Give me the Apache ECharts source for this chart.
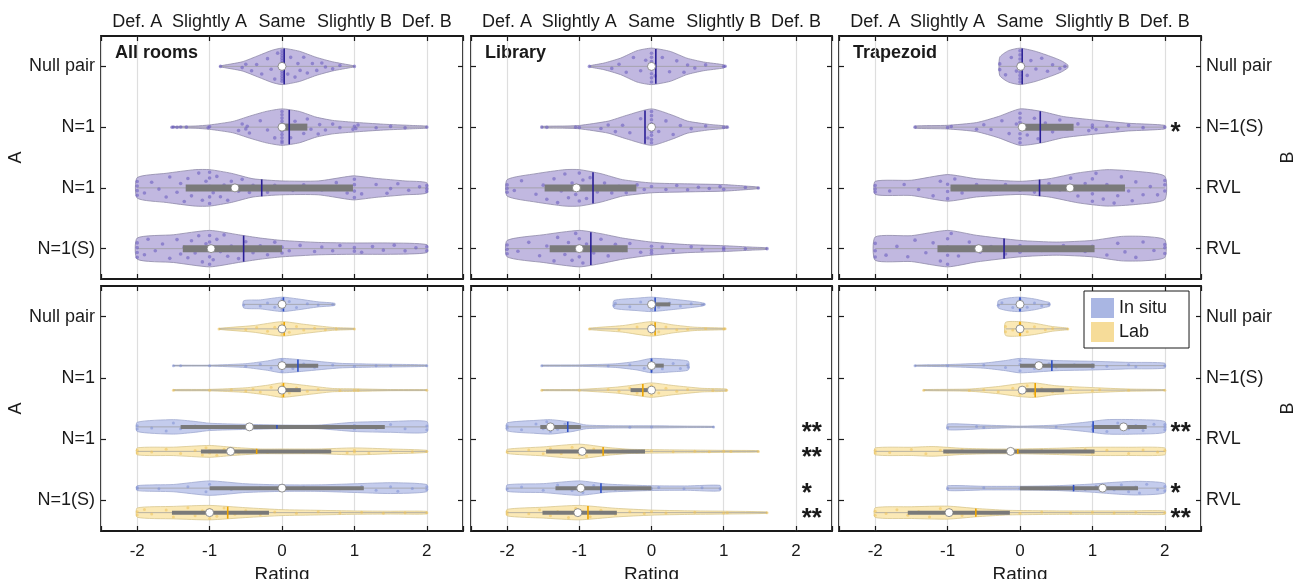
<!DOCTYPE html>
<html>
<head>
<meta charset="utf-8">
<script src="https://cdn.jsdelivr.net/npm/echarts@6/dist/echarts.min.js"></script>
<style>
  html, body { margin: 0; padding: 0; background: #fff; }
  #chart { width: 1293px; height: 579px; }
</style>
</head>
<body>
<div id="chart"></div>
<script>
var ratingTicks = [-2, -1, 0, 1, 2]
var ratingWords = ['Def. A', 'Slightly A', 'Same', 'Slightly B', 'Def. B']
var rowsA = ['Null pair', 'N=1', 'N=1', 'N=1(S)']
var rowsB = ['Null pair', 'N=1(S)', 'RVL', 'RVL']
var rooms = ['All rooms', 'Library', 'Trapezoid']
var groups = ['In situ', 'Lab']

// top row: in situ + lab pooled
// shape = [rating, density], box = IQR, pts = [rating, jitter]
var allRoomsPooled = [
  { row: 0, shape: [[-0.86, 0.02], [-0.55, 0.25], [-0.32, 0.6], [-0.14, 0.88], [0, 1], [0.24, 0.83], [0.47, 0.5], [0.7, 0.25], [0.97, 0.05], [1.0, 0.02]],
    box: [0, 0], median: 0, mean: 0.03,
    pts: [[-0.85, 0.1], [-0.55, 0.3], [-0.5, -0.4], [-0.42, 0.6], [-0.35, -0.2], [-0.28, 0.7], [-0.2, -0.6], [-0.15, 0.2], [-0.1, 0.85], [-0.06, -0.85],
      [0, -0.95], [0, -0.8], [0, -0.65], [0, -0.5], [0, -0.35], [0, -0.2], [0, 0.15], [0, 0.3], [0, 0.45], [0, 0.6], [0, 0.75], [0, 0.9],
      [0.08, 0.5], [0.12, -0.6], [0.18, 0.75], [0.22, -0.2], [0.25, 0.3], [0.3, -0.75], [0.35, 0.6], [0.42, -0.3], [0.48, 0.5], [0.55, -0.5], [0.6, 0.1], [0.7, 0.6], [0.8, -0.3], [1.0, 0]] },
  { row: 1, shape: [[-1.52, 0.03], [-1.2, 0.06], [-1.0, 0.12], [-0.68, 0.31], [-0.45, 0.6], [-0.22, 0.86], [0, 1], [0.24, 0.86], [0.47, 0.55], [0.7, 0.37], [0.98, 0.27], [1.4, 0.16], [1.8, 0.09], [2.0, 0.05]],
    box: [0, 0.35], median: 0, mean: 0.1,
    pts: [[-1.52, 0.2], [-1.5, -0.3], [-1.45, 0.4], [-1.4, -0.2], [-1.32, 0], [-1.02, 0.3], [-1.0, -0.2], [-0.6, 0.5], [-0.55, -0.4], [-0.5, 0.2], [-0.48, -0.1], [-0.45, 0.6], [-0.3, -0.5], [-0.2, 0.2], [-0.1, 0.7],
      [0, -0.95], [0, -0.75], [0, -0.55], [0, -0.35], [0, -0.15], [0, 0.25], [0, 0.45], [0, 0.65], [0, 0.85], [0, 0.95],
      [0.12, 0.7], [0.18, -0.4], [0.3, 0.5], [0.35, -0.7], [0.4, 0.2], [0.5, 0.8], [0.52, -0.3], [0.6, 0.4], [0.7, -0.5], [0.8, 0.1], [0.98, 0.5], [1.0, -0.2], [1.02, 0.3], [1.05, -0.5], [1.3, 0.2], [1.5, -0.3], [1.7, 0.4], [2.0, 0]] },
  { row: 2, shape: [[-2, 0.56], [-1.6, 0.8], [-1.2, 1.0], [-1.0, 1.0], [-0.7, 0.8], [-0.4, 0.5], [0, 0.38], [0.5, 0.38], [0.9, 0.62], [1.0, 0.66], [1.3, 0.52], [1.7, 0.38], [2.0, 0.28]],
    box: [-1.33, 0.98], median: -0.65, mean: -0.28,
    pts: [[-2, 0.8], [-2, 0.3], [-2, -0.2], [-2, -0.7], [-1.9, 0.5], [-1.8, -0.5], [-1.7, 0.1], [-1.6, 0.7], [-1.55, -0.8], [-1.45, 0.3], [-1.4, -0.3], [-1.35, 0.9], [-1.3, -0.6], [-1.25, 0.5], [-1.2, 0.1], [-1.15, -0.9], [-1.1, 0.75], [-1.05, -0.4],
      [-1.0, 0.95], [-1.0, 0.55], [-1.0, -0.1], [-1.0, -0.6], [-1.0, -0.95], [-0.95, 0.3], [-0.9, -0.75], [-0.85, 0.6], [-0.8, -0.2], [-0.75, 0.9], [-0.7, -0.5], [-0.6, 0.3], [-0.55, -0.8], [-0.45, 0.5], [-0.4, -0.3], [-0.2, 0.6], [-0.1, -0.4],
      [0.15, 0.4], [0.3, -0.5], [0.55, 0.3], [0.75, -0.6], [0.9, 0.5], [1.0, 0.9], [1.0, 0.3], [1.0, -0.3], [1.0, -0.8], [1.1, 0.6], [1.3, -0.4], [1.45, 0.7], [1.5, 0.1], [1.6, -0.6], [1.75, 0.4], [1.9, -0.2], [2, 0.8], [2, 0.2], [2, -0.5]] },
  { row: 3, shape: [[-2, 0.58], [-1.5, 0.76], [-1, 1.0], [-0.6, 0.76], [-0.3, 0.58], [0, 0.45], [0.5, 0.34], [1.0, 0.31], [1.5, 0.31], [2.0, 0.22]],
    box: [-1.37, 0], median: -0.98, mean: -0.53,
    pts: [[-2, 0.9], [-2, 0.4], [-2, -0.1], [-2, -0.6], [-1.9, 0.6], [-1.85, -0.9], [-1.75, 0.2], [-1.65, -0.4], [-1.55, 0.8], [-1.45, -0.7], [-1.4, 0.4], [-1.35, -0.1], [-1.3, 0.65], [-1.25, -0.55], [-1.2, 0.3], [-1.15, -0.85], [-1.1, 0.85], [-1.05, -0.3],
      [-1.0, 0.95], [-1.0, 0.5], [-1.0, 0.1], [-1.0, -0.4], [-1.0, -0.8], [-0.95, 0.7], [-0.9, -0.6], [-0.85, 0.2], [-0.8, -0.95], [-0.75, 0.55], [-0.7, -0.2], [-0.6, 0.8], [-0.5, -0.6], [-0.4, 0.4], [-0.3, -0.3], [-0.2, 0.7], [-0.1, -0.8],
      [0, 0.6], [0, -0.2], [0.1, 0.3], [0.25, -0.5], [0.45, 0.5], [0.55, -0.3], [0.7, 0.4], [0.8, -0.6], [1.0, 0.5], [1.0, -0.2], [1.1, 0.7], [1.25, -0.4], [1.4, 0.3], [1.55, -0.7], [1.7, 0.5], [1.85, -0.2], [2, 0.6], [2, -0.5]] }
]

var libraryPooled = [
  { row: 0, shape: [[-0.86, 0.03], [-0.66, 0.18], [-0.43, 0.45], [-0.2, 0.86], [0, 1], [0.26, 0.82], [0.49, 0.45], [0.72, 0.24], [1.0, 0.09], [1.02, 0.03]],
    box: [0, 0], median: 0, mean: 0.06,
    pts: [[-0.86, 0], [-0.55, 0.4], [-0.45, -0.3], [-0.35, 0.6], [-0.25, -0.7], [-0.15, 0.3], [-0.08, -0.4], [0, 0.95], [0, 0.7], [0, 0.45], [0, 0.2], [0, -0.3], [0, -0.55], [0, -0.8],
      [0.05, 0.6], [0.15, -0.6], [0.25, 0.4], [0.35, -0.5], [0.45, 0.7], [0.5, -0.2], [0.6, 0.3], [0.75, -0.4], [1.0, 0.1], [1.02, -0.2]] },
  { row: 1, shape: [[-1.52, 0.04], [-1.2, 0.06], [-1.0, 0.09], [-0.6, 0.33], [-0.35, 0.64], [0, 1], [0.3, 0.64], [0.5, 0.33], [0.8, 0.15], [1.05, 0.05]],
    box: [0, 0], median: 0, mean: -0.09,
    pts: [[-1.52, 0], [-1.45, 0.3], [-1.05, 0], [-1.0, 0.3], [-0.7, 0.3], [-0.6, -0.4], [-0.5, 0.6], [-0.4, -0.2], [-0.3, 0.5], [-0.15, -0.6], [-0.05, 0.7],
      [0, 0.95], [0, 0.75], [0, 0.5], [0, 0.3], [0, -0.2], [0, -0.45], [0, -0.7], [0, -0.95], [0.1, 0.3], [0.2, -0.5], [0.3, 0.7], [0.4, -0.2], [0.55, 0.3], [0.75, -0.4], [1.0, 0.2], [1.05, 0]] },
  { row: 2, shape: [[-2, 0.45], [-1.6, 0.78], [-1.2, 1.0], [-1.0, 1.0], [-0.7, 0.78], [-0.4, 0.45], [0, 0.27], [0.5, 0.22], [1.0, 0.18], [1.3, 0.1], [1.48, 0.04]],
    box: [-1.48, -0.21], median: -1.04, mean: -0.81,
    pts: [[-2, 0.6], [-2, 0.1], [-2, -0.4], [-1.9, 0.3], [-1.8, -0.7], [-1.6, 0.5], [-1.5, -0.2], [-1.45, 0.8], [-1.35, -0.6], [-1.3, 0.95], [-1.25, 0.2], [-1.2, -0.85], [-1.15, 0.6], [-1.1, -0.3], [-1.05, 0.4],
      [-1.0, 0.8], [-1.0, -0.1], [-1.0, -0.9], [-0.95, -0.5], [-0.9, 0.7], [-0.85, -0.7], [-0.75, 0.3], [-0.65, -0.4], [-0.55, 0.5], [-0.45, -0.2], [-0.35, 0.7], [-0.2, -0.5], [-0.1, 0.3],
      [0, -0.3], [0.2, 0.4], [0.35, -0.6], [0.5, 0.5], [0.65, -0.2], [0.8, 0.2], [0.95, -0.4], [1.0, 0.5], [1.3, -0.2], [1.48, 0.1]] },
  { row: 3, shape: [[-2, 0.45], [-1.5, 0.76], [-1.0, 1.0], [-0.7, 0.82], [-0.4, 0.58], [0, 0.36], [0.5, 0.22], [1.0, 0.16], [1.4, 0.08], [1.6, 0.04]],
    box: [-1.41, -0.33], median: -1.0, mean: -0.84,
    pts: [[-2, 0.7], [-2, 0.1], [-2, -0.5], [-1.85, 0.3], [-1.7, -0.6], [-1.55, 0.6], [-1.45, -0.2], [-1.35, 0.9], [-1.3, -0.8], [-1.2, 0.4], [-1.15, -0.4], [-1.1, 0.75], [-1.05, -0.95],
      [-1.0, 0.5], [-1.0, 0], [-1.0, -0.6], [-0.95, 0.9], [-0.9, -0.3], [-0.8, 0.3], [-0.7, -0.7], [-0.6, 0.6], [-0.5, -0.4], [-0.4, 0.2], [-0.3, -0.6], [-0.15, 0.5],
      [0, 0.8], [0, 0.3], [0, -0.4], [0.15, -0.3], [0.3, 0.4], [0.55, -0.5], [0.7, 0.2], [1.0, -0.3], [1.0, 0.4], [1.3, 0.1], [1.6, 0]] }
]

var trapezoidPooled = [
  { row: 0, shape: [[-0.28, 0.5], [-0.16, 0.86], [0, 1], [0.21, 0.83], [0.44, 0.52], [0.57, 0.31], [0.66, 0.08]],
    box: [0, 0], median: 0.01, mean: 0.03,
    pts: [[-0.28, 0.4], [-0.28, -0.3], [-0.2, 0.7], [-0.12, -0.6], [-0.05, 0.3], [0, 0.95], [0, 0.75], [0, 0.55], [0, 0.35], [0, 0.1], [0, -0.2], [0, -0.45], [0, -0.7], [0, -0.95],
      [0.1, 0.6], [0.15, -0.4], [0.22, 0.2], [0.3, -0.7], [0.38, 0.5], [0.45, -0.2], [0.55, 0.4], [0.62, 0]] },
  { row: 1, shape: [[-1.45, 0.06], [-1.0, 0.1], [-0.6, 0.25], [-0.3, 0.58], [0, 1], [0.3, 0.86], [0.6, 0.58], [1.0, 0.4], [1.5, 0.21], [2.0, 0.1]],
    box: [0.03, 0.74], median: 0.03, mean: 0.28,
    pts: [[-1.45, 0], [-1.0, 0.2], [-0.95, -0.3], [-0.6, 0.5], [-0.5, -0.4], [-0.4, 0.3], [-0.25, -0.6], [-0.15, 0.5], [-0.05, -0.2], [0, 0.95], [0, 0.7], [0, 0.4], [0, -0.3], [0, -0.55], [0, -0.85],
      [0.1, 0.5], [0.2, -0.6], [0.25, 0.8], [0.35, -0.3], [0.45, 0.4], [0.55, -0.7], [0.65, 0.2], [0.8, -0.4], [0.95, 0.5], [1.0, 0.1], [1.0, -0.3], [1.05, 0.4], [1.2, -0.2], [1.35, 0.3], [1.5, -0.5], [1.7, 0.2], [2.0, 0]] },
  { row: 2, shape: [[-2, 0.36], [-1.5, 0.42], [-1.0, 0.73], [-0.6, 0.5], [0, 0.36], [0.4, 0.5], [0.8, 0.82], [1.2, 1.0], [1.6, 0.91], [2.0, 0.64]],
    box: [-0.96, 1.45], median: 0.69, mean: 0.27,
    pts: [[-2, 0.7], [-2, 0.2], [-2, -0.4], [-1.8, 0.5], [-1.6, -0.5], [-1.4, 0.2], [-1.2, 0.8], [-1.1, -0.6], [-1.0, 0.9], [-1.0, 0.3], [-1.0, -0.3], [-0.9, -0.8], [-0.8, 0.5], [-0.6, -0.4], [-0.4, 0.3], [-0.2, -0.5],
      [0, 0.4], [0, -0.2], [0.2, 0.6], [0.4, -0.5], [0.55, 0.2], [0.7, -0.8], [0.8, 0.6], [0.9, -0.3], [1.0, 0.9], [1.0, 0.4], [1.0, -0.6], [1.05, -0.95], [1.15, 0.7], [1.2, -0.2],
      [1.3, 0.95], [1.35, 0.5], [1.4, -0.7], [1.5, 0.2], [1.55, 0.85], [1.6, -0.4], [1.7, 0.5], [1.8, -0.1], [1.9, 0.6], [2, 0.3], [2, -0.3], [2, -0.7]] },
  { row: 3, shape: [[-2, 0.64], [-1.5, 0.71], [-1, 1.0], [-0.6, 0.73], [0, 0.45], [0.5, 0.36], [1.0, 0.45], [1.4, 0.67], [1.7, 0.67], [2.0, 0.49]],
    box: [-1.14, 1.03], median: -0.57, mean: -0.22,
    pts: [[-2, 0.8], [-2, 0.2], [-2, -0.5], [-1.85, 0.6], [-1.7, -0.2], [-1.55, 0.7], [-1.45, -0.7], [-1.3, 0.3], [-1.2, -0.4], [-1.1, 0.8], [-1.0, 0.95], [-1.0, 0.4], [-1.0, -0.1], [-1.0, -0.6], [-0.95, -0.95],
      [-0.85, 0.5], [-0.7, -0.5], [-0.55, 0.3], [-0.4, -0.2], [-0.2, 0.6], [0, 0.5], [0, -0.4], [0.3, 0.3], [0.6, -0.5], [0.9, 0.4], [1.0, -0.3], [1.2, 0.7], [1.35, -0.5], [1.45, 0.3], [1.6, 0.8], [1.7, -0.6], [1.85, 0.2], [2, 0.6], [2, -0.1], [2, -0.5]] }
]

// bottom row: side -1 = in situ, side 1 = lab
var allRoomsSplit = [
  { row: 0, side: -1, shape: [[-0.53, 0.5], [-0.3, 0.62], [0, 1], [0.2, 0.78], [0.5, 0.35], [0.73, 0.15]], box: [0, 0], median: 0, mean: 0.02,
    pts: [[-0.53, 0.2], [-0.3, 0.4], [-0.2, -0.3], [-0.1, 0.5], [0, 0.8], [0, 0.3], [0, -0.3], [0, -0.8], [0.1, -0.5], [0.2, 0.6], [0.35, -0.2], [0.5, 0.3], [0.7, 0]] },
  { row: 0, side: 1, shape: [[-0.87, 0.07], [-0.4, 0.45], [0, 1], [0.3, 0.64], [0.7, 0.2], [1.0, 0.08]], box: [0, 0], median: 0, mean: 0.03,
    pts: [[-0.87, 0], [-0.5, 0.3], [-0.35, -0.4], [-0.2, 0.5], [-0.1, -0.3], [0, 0.85], [0, 0.4], [0, -0.3], [0, -0.8], [0.1, 0.6], [0.2, -0.5], [0.3, 0.3], [0.45, -0.2], [0.6, 0.4], [0.75, 0], [1.0, 0]] },
  { row: 1, side: -1, shape: [[-1.5, 0.05], [-1.0, 0.06], [-0.5, 0.27], [-0.2, 0.65], [0, 1], [0.3, 0.77], [0.8, 0.32], [1.2, 0.22], [2.0, 0.1]], box: [0, 0.5], median: 0, mean: 0.22,
    pts: [[-1.5, 0], [-1.4, 0.2], [-1.0, 0], [-0.5, 0.3], [-0.3, -0.4], [-0.15, 0.5], [0, 0.9], [0, 0.3], [0, -0.4], [0, -0.9], [0.15, 0.5], [0.3, -0.3], [0.45, 0.4], [0.7, -0.2], [1.0, 0.3], [1.3, 0], [1.5, 0], [2.0, 0]] },
  { row: 1, side: 1, shape: [[-1.5, 0.08], [-1.0, 0.1], [-0.5, 0.32], [-0.2, 0.68], [0, 1], [0.3, 0.68], [0.7, 0.23], [1.0, 0.18], [1.5, 0.08], [2.0, 0.06]], box: [0, 0.26], median: 0, mean: 0.02,
    pts: [[-1.5, 0], [-1.0, 0.2], [-0.7, -0.2], [-0.5, 0.4], [-0.4, -0.3], [-0.3, 0.5], [-0.15, -0.6], [0, 0.9], [0, 0.4], [0, -0.2], [0, -0.7], [0.1, 0.5], [0.2, -0.4], [0.35, 0.3], [0.5, -0.2], [0.8, 0.3], [1.0, 0], [1.05, 0.2], [2.0, 0]] },
  { row: 2, side: -1, shape: [[-2, 0.64], [-1.5, 1.0], [-1.2, 0.75], [-1.0, 0.5], [-0.5, 0.35], [0, 0.25], [0.5, 0.25], [1.0, 0.64], [1.5, 0.75], [2.0, 0.75]], box: [-1.4, 1.42], median: -0.45, mean: -0.07,
    pts: [[-2, 0.5], [-2, -0.3], [-1.8, 0.2], [-1.6, 0.7], [-1.5, -0.6], [-1.4, 0.3], [-1.2, -0.2], [-1.0, 0.4], [-0.5, 0], [0, 0.3], [0.7, -0.2], [1.0, 0.5], [1.0, -0.4], [1.3, 0.3], [1.5, -0.5], [1.7, 0.4], [2, 0.6], [2, -0.2]] },
  { row: 2, side: 1, shape: [[-2, 0.48], [-1.5, 0.58], [-1.0, 0.82], [-0.7, 0.58], [-0.3, 0.33], [0, 0.33], [0.5, 0.33], [1.0, 0.48], [1.5, 0.33], [2.0, 0.15]], box: [-1.12, 0.68], median: -0.71, mean: -0.35,
    pts: [[-2, 0.5], [-2, -0.4], [-1.8, 0.2], [-1.6, -0.6], [-1.4, 0.5], [-1.2, -0.2], [-1.1, 0.7], [-1.05, -0.7], [-1.0, 0.3], [-1.0, -0.2], [-0.9, 0.8], [-0.8, -0.5], [-0.6, 0.4], [-0.4, -0.3], [-0.2, 0.5],
      [0, -0.2], [0.3, 0.4], [0.6, -0.3], [0.9, 0.5], [1.0, -0.4], [1.0, 0.2], [1.2, 0.6], [1.5, -0.3], [1.8, 0.3], [2, 0]] },
  { row: 3, side: -1, shape: [[-2, 0.34], [-1.5, 0.5], [-1.0, 1.0], [-0.5, 0.6], [0, 0.45], [0.5, 0.45], [1.0, 0.6], [1.5, 0.75], [2.0, 0.5]], box: [-1.0, 1.13], median: 0, mean: 0,
    pts: [[-2, 0.3], [-2, -0.4], [-1.7, 0.2], [-1.3, -0.3], [-1.05, 0.6], [-1.0, -0.6], [-0.7, 0.3], [-0.3, -0.2], [0, 0.4], [0.3, -0.3], [0.8, 0.2], [1.1, -0.4], [1.3, 0.5], [1.5, -0.3], [1.6, 0.7], [1.8, 0.1], [2, 0.4], [2, -0.4]] },
  { row: 3, side: 1, shape: [[-2, 0.64], [-1.5, 0.86], [-1, 1.0], [-0.5, 0.68], [0, 0.41], [0.5, 0.32], [1.0, 0.23], [1.5, 0.2], [2.0, 0.18]], box: [-1.52, -0.18], median: -1.0, mean: -0.75,
    pts: [[-2, 0.6], [-2, -0.2], [-1.9, -0.7], [-1.8, 0.3], [-1.6, -0.5], [-1.5, 0.8], [-1.4, 0], [-1.3, -0.8], [-1.2, 0.5], [-1.1, -0.3], [-1.0, 0.9], [-1.0, 0.2], [-1.0, -0.5], [-0.9, 0.6], [-0.8, -0.8],
      [-0.65, 0.3], [-0.5, -0.4], [-0.3, 0.5], [-0.1, -0.2], [0.2, 0.3], [0.5, -0.4], [0.8, 0.2], [1.1, -0.3], [1.4, 0.4], [1.7, 0], [2, 0]] }
]

var librarySplit = [
  { row: 0, side: -1, shape: [[-0.52, 0.53], [-0.2, 0.86], [0, 1], [0.3, 0.71], [0.6, 0.38], [0.73, 0.15]], box: [0.03, 0.26], median: 0, mean: 0.05,
    pts: [[-0.52, 0.3], [-0.5, -0.3], [-0.3, 0.5], [-0.15, -0.4], [0, 0.8], [0, 0.2], [0, -0.5], [0.1, 0.5], [0.25, -0.3], [0.4, 0.4], [0.55, -0.2], [0.7, 0.2], [0.73, -0.1]] },
  { row: 0, side: 1, shape: [[-0.86, 0.1], [-0.4, 0.45], [0, 1], [0.3, 0.55], [0.6, 0.23], [1.02, 0.1]], box: [0, 0], median: 0, mean: 0.05,
    pts: [[-0.86, 0], [-0.45, 0.3], [-0.2, -0.4], [0, 0.8], [0, 0.3], [0, -0.3], [0, -0.8], [0.1, 0.5], [0.2, -0.4], [0.35, 0.3], [0.5, 0.2], [0.75, -0.1], [1.0, 0.2], [1.02, -0.2]] },
  { row: 1, side: -1, shape: [[-1.52, 0.07], [-1.0, 0.1], [-0.5, 0.25], [-0.2, 0.6], [0, 1], [0.3, 0.85], [0.51, 0.6]], box: [0, 0.17], median: 0, mean: 0,
    pts: [[-1.52, 0], [-0.6, 0.2], [-0.3, -0.3], [-0.1, 0.5], [0, 0.8], [0, 0.3], [0, -0.3], [0, -0.8], [0.15, 0.5], [0.3, -0.4], [0.4, 0.6], [0.5, -0.2], [0.51, 0.4]] },
  { row: 1, side: 1, shape: [[-1.52, 0.07], [-1.0, 0.1], [-0.5, 0.4], [-0.2, 0.75], [0, 1], [0.3, 0.64], [0.7, 0.25], [1.04, 0.15]], box: [-0.29, 0], median: 0, mean: -0.12,
    pts: [[-1.52, 0], [-1.0, 0.2], [-0.6, -0.3], [-0.45, 0.4], [-0.3, -0.5], [-0.2, 0.6], [-0.05, -0.3], [0, 0.8], [0, 0.2], [0, -0.7], [0.1, 0.5], [0.2, -0.4], [0.35, 0.3], [0.5, -0.2], [0.85, 0.2], [1.04, 0]] },
  { row: 2, side: -1, shape: [[-2, 0.55], [-1.6, 0.9], [-1.4, 1.0], [-1.1, 0.65], [-0.9, 0.25], [-0.5, 0.15], [0, 0.15], [0.5, 0.1], [0.86, 0.07]], box: [-1.54, -0.98], median: -1.4, mean: -1.16,
    pts: [[-2, 0.4], [-2, -0.3], [-1.8, 0.6], [-1.6, -0.5], [-1.5, 0.3], [-1.45, -0.8], [-1.4, 0.7], [-1.35, -0.2], [-1.3, 0.4], [-1.2, -0.6], [-1.0, 0.2], [-0.3, 0.3], [0, 0], [0.86, 0]] },
  { row: 2, side: 1, shape: [[-2, 0.29], [-1.5, 0.62], [-1, 1.0], [-0.6, 0.53], [-0.3, 0.29], [0, 0.24], [0.5, 0.19], [1.0, 0.14], [1.48, 0.1]], box: [-1.46, -0.09], median: -0.96, mean: -0.67,
    pts: [[-2, 0.3], [-1.7, -0.4], [-1.5, 0.6], [-1.4, -0.6], [-1.25, 0.4], [-1.1, -0.7], [-1.0, 0.5], [-1.0, -0.2], [-0.9, 0.8], [-0.8, -0.5], [-0.6, 0.3], [-0.4, -0.3], [-0.2, 0.3], [0, -0.3], [0.3, 0.2], [0.6, -0.2], [0.8, 0.3], [1.0, -0.2], [1.1, 0.2], [1.48, 0]] },
  { row: 3, side: -1, shape: [[-2, 0.45], [-1.5, 0.62], [-1, 1.0], [-0.6, 0.55], [0, 0.33], [0.5, 0.3], [0.95, 0.38]], box: [-1.33, 0], median: -0.98, mean: -0.7,
    pts: [[-2, 0.3], [-1.8, -0.3], [-1.5, 0.5], [-1.3, -0.6], [-1.1, 0.4], [-1.0, -0.2], [-0.95, 0.7], [-0.8, -0.5], [-0.5, 0.3], [0, 0.2], [0.1, -0.3], [0.45, 0.3], [0.7, -0.2], [0.95, 0.3]] },
  { row: 3, side: 1, shape: [[-2, 0.45], [-1.5, 0.75], [-1, 1.0], [-0.5, 0.6], [0, 0.35], [0.5, 0.25], [1.0, 0.2], [1.6, 0.1]], box: [-1.51, -0.48], median: -1.02, mean: -0.88,
    pts: [[-2, 0.5], [-2, -0.3], [-1.7, 0.3], [-1.55, -0.6], [-1.4, 0.6], [-1.3, -0.2], [-1.15, 0.8], [-1.05, -0.7], [-1.0, 0.3], [-0.95, -0.2], [-0.85, 0.7], [-0.7, -0.5], [-0.5, 0.4], [-0.3, -0.3], [-0.1, 0.3], [0, -0.4], [0.2, 0.2], [0.6, -0.2], [1.0, 0.3], [1.05, 0], [1.6, 0]] }
]

var trapezoidSplit = [
  { row: 0, side: -1, shape: [[-0.3, 0.5], [-0.15, 0.9], [0, 1], [0.2, 0.75], [0.35, 0.4], [0.41, 0.25]], box: [0, 0], median: 0, mean: 0,
    pts: [[-0.3, 0.3], [-0.25, -0.4], [-0.1, 0.5], [0, 0.8], [0, 0.2], [0, -0.4], [0, -0.8], [0.1, 0.5], [0.2, -0.3], [0.3, 0.4], [0.4, -0.1]] },
  { row: 0, side: 1, shape: [[-0.2, 0.9], [0, 1], [0.2, 0.78], [0.45, 0.32], [0.66, 0.1]], box: [0, 0], median: 0, mean: 0,
    pts: [[-0.2, 0.5], [-0.2, -0.4], [-0.1, 0.2], [0, 0.8], [0, 0.3], [0, -0.3], [0, -0.8], [0.1, 0.5], [0.2, -0.4], [0.35, 0.3], [0.45, -0.2], [0.66, 0]] },
  { row: 1, side: -1, shape: [[-1.45, 0.07], [-1.0, 0.15], [-0.5, 0.35], [-0.2, 0.7], [0, 1], [0.5, 0.7], [1.0, 0.6], [1.5, 0.45], [2.0, 0.35]], box: [0, 1.03], median: 0.26, mean: 0.44,
    pts: [[-1.45, 0], [-1.0, 0.2], [-0.5, -0.3], [-0.2, 0.4], [0, 0.8], [0, -0.2], [0, -0.8], [0.2, 0.5], [0.4, -0.4], [0.5, 0.3], [0.75, -0.2], [1.0, 0.5], [1.0, -0.3], [1.2, 0.2], [1.5, -0.3], [1.6, 0.4], [2, 0]] },
  { row: 1, side: 1, shape: [[-1.33, 0.07], [-0.7, 0.15], [-0.3, 0.5], [0, 0.9], [0.2, 1.0], [0.5, 0.6], [1.0, 0.35], [1.5, 0.15], [2.0, 0.07]], box: [0.03, 0.61], median: 0.03, mean: 0.21,
    pts: [[-1.33, 0], [-0.7, 0.3], [-0.5, -0.2], [-0.3, 0.5], [-0.1, -0.4], [0, 0.7], [0, -0.1], [0.1, -0.7], [0.2, 0.5], [0.3, -0.3], [0.45, 0.4], [0.7, -0.3], [1.0, 0.3], [1.1, -0.2], [1.5, 0.1], [2, 0]] },
  { row: 2, side: -1, shape: [[-1, 0.4], [-0.5, 0.25], [0, 0.1], [0.5, 0.25], [0.9, 0.64], [1.2, 1.0], [1.6, 1.0], [2.0, 0.75]], box: [1.01, 1.75], median: 1.43, mean: 1.01,
    pts: [[-1.0, 0.3], [-0.6, -0.2], [-0.5, 0.4], [0.5, 0], [1.0, 0.5], [1.0, -0.3], [1.2, 0.7], [1.35, -0.6], [1.5, 0.3], [1.6, -0.2], [1.7, 0.6], [1.85, -0.5], [2, 0.6], [2, 0], [2, -0.5]] },
  { row: 2, side: 1, shape: [[-2, 0.48], [-1.5, 0.57], [-1.2, 0.67], [-0.8, 0.43], [-0.4, 0.33], [0, 0.33], [0.5, 0.43], [1.0, 0.57], [1.5, 0.57], [2.0, 0.48]], box: [-1.06, 1.03], median: -0.13, mean: -0.03,
    pts: [[-2, 0.5], [-2, -0.3], [-1.8, 0.3], [-1.5, -0.5], [-1.3, 0.6], [-1.1, -0.3], [-1.0, 0.4], [-0.8, -0.6], [-0.5, 0.3], [-0.2, -0.3], [0, 0.4], [0.3, -0.4], [0.6, 0.3], [0.9, -0.5], [1.0, 0.5], [1.2, -0.3], [1.5, 0.6], [1.7, -0.4], [1.9, 0.2], [2, -0.3]] },
  { row: 3, side: -1, shape: [[-1, 0.33], [-0.5, 0.25], [0, 0.25], [0.5, 0.33], [1.0, 0.57], [1.3, 0.8], [1.6, 0.95], [2.0, 0.67]], box: [0, 1.63], median: 1.14, mean: 0.74,
    pts: [[-1.0, 0.2], [-0.5, -0.2], [0, 0.3], [0.5, -0.2], [0.9, 0.4], [1.05, -0.5], [1.3, 0.3], [1.4, -0.6], [1.5, 0.6], [1.6, -0.2], [1.65, 0.8], [1.75, -0.7], [1.9, 0.3], [2, 0.6], [2, -0.4]] },
  { row: 3, side: 1, shape: [[-2, 0.67], [-1.5, 0.81], [-1, 0.9], [-0.6, 0.57], [-0.2, 0.33], [0, 0.29], [0.5, 0.24], [1.0, 0.24], [1.5, 0.24], [2.0, 0.24]], box: [-1.55, -0.14], median: -0.98, mean: -0.61,
    pts: [[-2, 0.6], [-2, -0.3], [-1.85, 0.2], [-1.7, -0.6], [-1.55, 0.5], [-1.4, -0.2], [-1.25, 0.8], [-1.1, -0.7], [-1.0, 0.3], [-0.95, -0.4], [-0.8, 0.6], [-0.6, -0.3], [-0.4, 0.4], [-0.2, -0.2], [0, 0.3], [0.3, -0.3], [0.7, 0.2], [1.0, -0.2], [1.3, 0.3], [1.6, -0.2], [2, 0]] }
]

// significance marks: [row, side, text]
var trapezoidPooledStars = [[1, 0, '*']]
var libraryStars = [[2, -1, '**'], [2, 1, '**'], [3, -1, '*'], [3, 1, '**']]
var trapezoidStars = [[2, -1, '**'], [3, -1, '*'], [3, 1, '**']]

var FONT = 'Liberation Sans, Arial, Helvetica, sans-serif'
var TEXT = '#1a1a1a'
var palette = {
  all: { fill: '#c1b8e0', edge: '#8e89a8', dot: '#6d5fbf', mean: '#2a1f96' },
  situ: { fill: '#c4cced', edge: '#9ea8cf', dot: '#7f8fd4', mean: '#2e4fc4' },
  lab: { fill: '#fbe9b6', edge: '#d8c68e', dot: '#efc358', mean: '#eca400' }
}
var legendColors = ['#a9b6e3', '#f6dc99']

var colLeft = [101, 471, 839]
var colWidth = [362, 361, 362]
var rowTop = [36, 286]
var rowHeight = [243, 245]

var panels = [
  { room: 0, split: false, violins: allRoomsPooled, stars: [] },
  { room: 1, split: false, violins: libraryPooled, stars: [] },
  { room: 2, split: false, violins: trapezoidPooled, stars: trapezoidPooledStars },
  { room: 0, split: true, violins: allRoomsSplit, stars: [] },
  { room: 1, split: true, violins: librarySplit, stars: libraryStars },
  { room: 2, split: true, violins: trapezoidSplit, stars: trapezoidStars }
]

function densityAt (shape, r) {
  if (r <= shape[0][0]) return shape[0][1]
  for (var i = 1; i < shape.length; i++) {
    if (r <= shape[i][0]) {
      var a = shape[i - 1]
      var b = shape[i]
      var t = (r - a[0]) / ((b[0] - a[0]) || 1)
      return a[1] + t * (b[1] - a[1])
    }
  }
  return shape[shape.length - 1][1]
}

function makeViolin (violins, split) {
  return function (params, api) {
    var v = violins[params.dataIndex]
    var band = api.size([0, 1])[1]
    var yc = api.coord([0, v.row])[1] + (split ? v.side * 0.2 * band : 0)
    var w = (split ? 0.118 : 0.3) * band
    var col = split ? (v.side < 0 ? palette.situ : palette.lab) : palette.all
    var X = function (r) { return api.coord([r, v.row])[0] }
    var upper = v.shape.map(function (k) { return [X(k[0]), yc - k[1] * w] })
    var lower = v.shape.slice().reverse().map(function (k) { return [X(k[0]), yc + k[1] * w] })
    var children = []
    children.push({ type: 'polygon', shape: { points: upper.concat(lower), smooth: 0.2 },
      style: { fill: col.fill, stroke: col.edge, lineWidth: 0.8 } })
    children.push({ type: 'line', shape: { x1: X(v.shape[0][0]), y1: yc, x2: X(v.shape[v.shape.length - 1][0]), y2: yc },
      style: { stroke: '#9a9a9a', lineWidth: 0.7 } })
    v.pts.forEach(function (p) {
      var d = densityAt(v.shape, p[0]) * w * 0.9
      children.push({ type: 'circle', shape: { cx: X(p[0]), cy: yc + p[1] * d, r: split ? 1.5 : 1.8 },
        style: { fill: col.dot, opacity: split ? 0.55 : 0.6 } })
    })
    var bh = split ? 4 : 7
    if (v.box[1] > v.box[0]) {
      children.push({ type: 'rect', shape: { x: X(v.box[0]), y: yc - bh / 2, width: X(v.box[1]) - X(v.box[0]), height: bh },
        style: { fill: '#7a7a7a' } })
    }
    var dm = densityAt(v.shape, v.mean) * w
    children.push({ type: 'line', shape: { x1: X(v.mean), y1: yc - dm, x2: X(v.mean), y2: yc + dm },
      style: { stroke: col.mean, lineWidth: 1.6 } })
    children.push({ type: 'circle', shape: { cx: X(v.median), cy: yc, r: 4 },
      style: { fill: '#fff', stroke: '#777', lineWidth: 0.8 } })
    return { type: 'group', children: children }
  }
}

function makeStars (stars) {
  return function (params, api) {
    var s = stars[params.dataIndex]
    var band = api.size([0, 1])[1]
    var p = api.coord([2.08, s[0]])
    var y = p[1] + s[1] * 0.2 * band
    return { type: 'text', x: p[0], y: y + 6,
      style: { text: s[2], font: 'bold 26px ' + FONT, fill: TEXT, align: 'left', verticalAlign: 'middle' } }
  }
}

var grids = []
var xAxes = []
var yAxes = []
var series = []
var graphics = []

panels.forEach(function (p, g) {
  var R = p.split ? 1 : 0
  var c = p.room
  // fixed panel boxes; labels may run past the canvas edge as in the source figure
  grids.push({ left: colLeft[c], top: rowTop[R], width: colWidth[c], height: rowHeight[R],
    containLabel: false, outerBoundsMode: 'none',
    show: true, borderColor: '#1a1a1a', borderWidth: 1.8, backgroundColor: 'transparent' })
  var tick = { show: true, inside: true, length: 5, lineStyle: { color: '#1a1a1a', width: 1.2 } }
  var noLine = { show: false, onZero: false }
  // bottom x axis
  xAxes.push({ gridIndex: g, type: 'value', position: 'bottom', min: -2.5, max: 2.5, splitNumber: 5,
    axisLine: noLine, axisTick: tick,
    splitLine: { show: true, lineStyle: { color: '#dedede', width: 1.2 } },
    axisLabel: { show: R === 1, margin: 12, fontSize: 17, fontFamily: FONT, color: TEXT,
      formatter: function (val) { return ratingTicks.indexOf(val) >= 0 ? String(val) : '' } },
    name: R === 1 ? 'Rating' : '', nameLocation: 'middle', nameGap: 34,
    nameTextStyle: { fontSize: 19, fontFamily: FONT, color: TEXT } })
  // top x axis
  xAxes.push({ gridIndex: g, type: 'value', position: 'top', min: -2.5, max: 2.5, splitNumber: 5,
    axisLine: noLine, axisTick: tick, splitLine: { show: false },
    axisLabel: { show: R === 0, margin: 5, fontSize: 18, fontFamily: FONT, color: TEXT,
      formatter: function (val) { var i = ratingTicks.indexOf(val); return i >= 0 ? ratingWords[i] : '' } } })
  var catTick = { show: true, inside: true, alignWithLabel: true, length: 5, lineStyle: { color: '#1a1a1a', width: 1.2 } }
  yAxes.push({ gridIndex: g, type: 'category', data: rowsA, inverse: true, position: 'left',
    axisLine: noLine, axisTick: catTick, splitLine: { show: false },
    axisLabel: { show: c === 0, margin: 6, fontSize: 18, fontFamily: FONT, color: TEXT },
    name: c === 0 ? 'A' : '', nameLocation: 'middle', nameRotate: 90, nameGap: 70,
    nameTextStyle: { fontSize: 18, fontFamily: FONT, color: TEXT } })
  yAxes.push({ gridIndex: g, type: 'category', data: rowsB, inverse: true, position: 'right',
    axisLine: noLine, axisTick: catTick, splitLine: { show: false },
    axisLabel: { show: c === 2, margin: 5, fontSize: 18, fontFamily: FONT, color: TEXT },
    name: c === 2 ? 'B' : '', nameLocation: 'middle', nameRotate: 90, nameGap: 78,
    nameTextStyle: { fontSize: 18, fontFamily: FONT, color: TEXT } })

  series.push({ type: 'custom', xAxisIndex: 2 * g, yAxisIndex: 2 * g, silent: true, z: 2,
    renderItem: makeViolin(p.violins, p.split),
    data: p.violins.map(function (v) { return [v.median, v.row] }),
    encode: { x: 0, y: 1 } })
  if (p.stars.length) {
    series.push({ type: 'custom', xAxisIndex: 2 * g, yAxisIndex: 2 * g, silent: true, z: 3,
      renderItem: makeStars(p.stars),
      data: p.stars.map(function (s) { return [2.08, s[0]] }),
      encode: { x: 0, y: 1 } })
  }
  if (R === 0) {
    graphics.push({ type: 'text', left: colLeft[c] + 14, top: rowTop[R] + 8,
      style: { text: rooms[c], font: 'bold 18px ' + FONT, fill: TEXT } })
  }
})

// legend entries
groups.forEach(function (name, i) {
  series.push({ type: 'bar', name: name, xAxisIndex: 0, yAxisIndex: 0, data: [],
    itemStyle: { color: legendColors[i] } })
})

var chart = echarts.init(document.getElementById('chart'), null, { renderer: 'canvas' })
chart.setOption({
  animation: false,
  backgroundColor: '#fff',
  grid: grids,
  xAxis: xAxes,
  yAxis: yAxes,
  series: series,
  graphic: graphics,
  legend: {
    data: [{ name: 'In situ', icon: 'rect' }, { name: 'Lab', icon: 'rect' }],
    orient: 'vertical', left: 1084, top: 291,
    itemWidth: 23, itemHeight: 20, itemGap: 4,
    padding: [7, 22, 6, 7],
    borderColor: '#1a1a1a', borderWidth: 1, backgroundColor: '#fff',
    selectedMode: false,
    textStyle: { fontSize: 18, fontFamily: FONT, color: TEXT }
  }
})
</script>
</body>
</html>
